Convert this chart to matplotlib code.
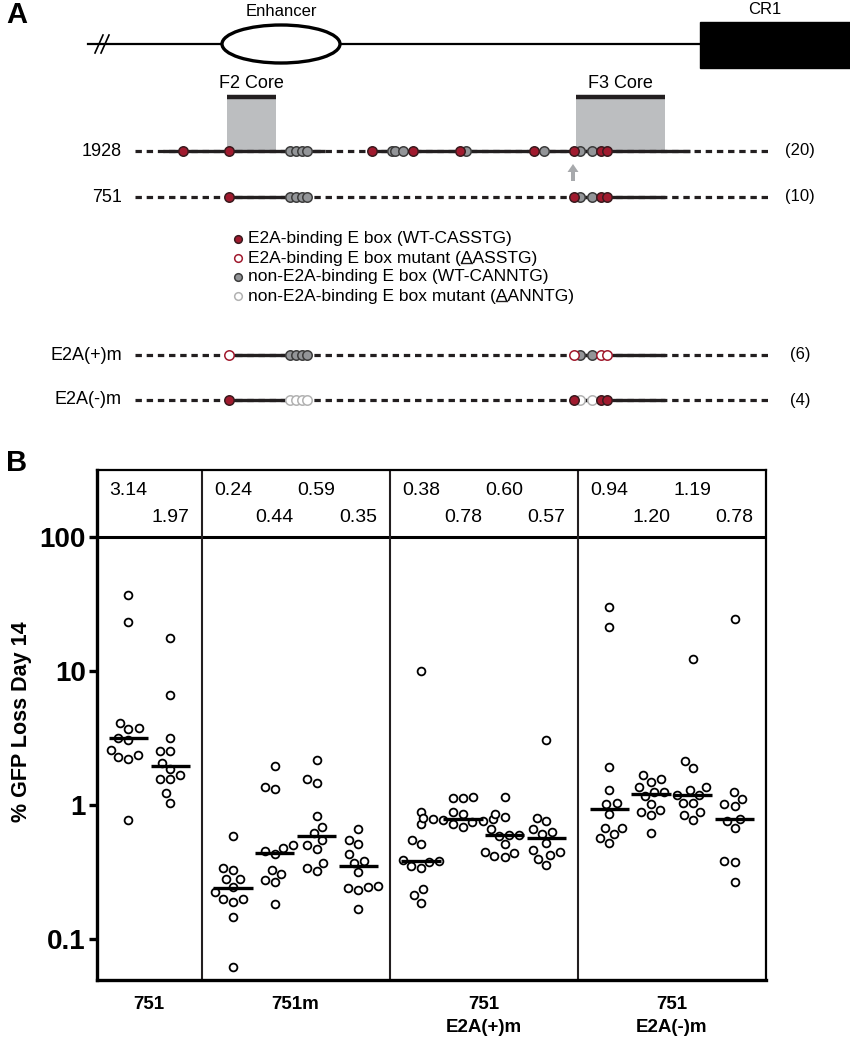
import numpy as np
import matplotlib
matplotlib.use("Agg")
import matplotlib.pyplot as plt
from matplotlib.patches import Ellipse, Rectangle, FancyArrow
from matplotlib.ticker import NullLocator, FixedLocator
from matplotlib.transforms import blended_transform_factory

plt.rcParams['font.family'] = ['Liberation Sans', 'DejaVu Sans']
NARROW = ['Liberation Sans Narrow', 'Liberation Sans', 'DejaVu Sans']

# ---------- panel A: construct map ----------
construct_names = ["1928", "751", "E2A(+)m", "E2A(-)m"]
construct_counts = ["(20)", "(10)", "(6)", "(4)"]
# E box positions along the map; E = E2A-binding, N = non-binding, lower case = mutant
ebox_pos_1928 = [183, 229, 290, 296, 302, 307, 372, 392, 395, 403, 413,
                 460, 466, 534, 544, 574, 580, 592, 601, 607]
ebox_type_1928 = ["E", "E", "N", "N", "N", "N", "E", "N", "N", "N", "E",
                  "E", "N", "E", "N", "E", "N", "N", "E", "E"]
ebox_pos_751 = [229, 290, 296, 302, 307, 574, 580, 592, 601, 607]
ebox_type_751 = ["E", "N", "N", "N", "N", "E", "N", "N", "E", "E"]
ebox_type_plus = ["e", "N", "N", "N", "N", "e", "N", "N", "e", "e"]
ebox_type_minus = ["E", "n", "n", "n", "n", "E", "n", "n", "E", "E"]
kept_1928 = [(163, 325), (368, 690)]
kept_751 = [(229, 308), (570, 665)]
map_span = (135, 768)
f2_core = (227, 276)
f3_core = (576, 665)
legend_labels = ["E2A-binding E box (WT-CASSTG)",
                 "E2A-binding E box mutant (AASSTG)",
                 "non-E2A-binding E box (WT-CANNTG)",
                 "non-E2A-binding E box mutant (AANNTG)"]
legend_types = ["E", "e", "N", "n"]

# ---------- panel B: % GFP loss day 14 ----------
group_names = ["751", "751m", "751\nE2A(+)m", "751\nE2A(-)m"]
group_ncols = [2, 4, 4, 4]
median_labels = ["3.14", "1.97", "0.24", "0.44", "0.59", "0.35",
                 "0.38", "0.78", "0.60", "0.57", "0.94", "1.20", "1.19", "0.78"]
gfp_loss = [
    [36.9, 23.2, 4.11, 3.71, 3.73, 3.05, 3.16, 2.57, 2.29, 2.19, 2.36, 0.77],
    [17.7, 6.62, 3.16, 2.52, 2.52, 2.07, 1.87, 1.57, 1.56, 1.67, 1.22, 1.04],
    [0.59, 0.327, 0.34, 0.28, 0.28, 0.246, 0.20, 0.188, 0.20, 0.223, 0.147, 0.062],
    [1.95, 1.31, 1.36, 0.50, 0.48, 0.45, 0.43, 0.325, 0.275, 0.304, 0.265, 0.182],
    [2.15, 1.47, 1.56, 0.83, 0.68, 0.615, 0.548, 0.50, 0.47, 0.369, 0.323, 0.34],
    [0.66, 0.51, 0.548, 0.433, 0.37, 0.385, 0.315, 0.25, 0.239, 0.232, 0.243, 0.168],
    [10.0, 0.89, 0.72, 0.548, 0.51, 0.39, 0.38, 0.336, 0.35, 0.377, 0.236, 0.212, 0.185],
    [1.15, 1.12, 1.13, 0.89, 0.85, 0.80, 0.78, 0.78, 0.76, 0.77, 0.74, 0.69, 0.72],
    [1.15, 0.86, 0.82, 0.665, 0.60, 0.60, 0.59, 0.51, 0.436, 0.41, 0.417, 0.444],
    [3.07, 0.80, 0.76, 0.665, 0.61, 0.625, 0.52, 0.46, 0.42, 0.446, 0.395, 0.356],
    [30.2, 21.4, 1.91, 1.29, 1.03, 1.02, 0.86, 0.67, 0.67, 0.61, 0.57, 0.52],
    [1.56, 1.49, 1.66, 1.26, 1.17, 1.24, 1.36, 1.02, 0.88, 0.84, 0.91, 0.62],
    [12.3, 2.14, 1.90, 1.29, 1.36, 1.19, 1.19, 1.03, 1.03, 0.88, 0.84, 0.77],
    [24.4, 1.24, 1.11, 1.01, 0.99, 0.78, 0.76, 0.67, 0.38, 0.374, 0.265],
]

RED = '#a01a2e'
GREY = '#939598'
DARK = '#231f20'

W, H = 850, 1050
fig = plt.figure(figsize=(W / 100, H / 100), dpi=100)
renderer = fig.canvas.get_renderer()

# ---------- panel A (pixel coordinates) ----------
HA = 460
axA = fig.add_axes([0, 1 - HA / H, 1, HA / H])
axA.set_xlim(0, W)
axA.set_ylim(HA, 0)
axA.axis('off')

fig.text(6 / W, 1 - 15 / H, "A", fontsize=21, fontweight='bold', va='center', family=NARROW)

# locus line with enhancer and CR1
axA.plot([88, 850], [44, 44], color='black', lw=1.6, zorder=1)
for dx in (0, 6):
    axA.plot([95 + dx, 103 + dx], [53, 35], color='black', lw=1.2, zorder=2)
axA.add_patch(Ellipse((281, 44), 118, 38, facecolor='white', edgecolor='black', lw=2.4, zorder=3))
axA.add_patch(Rectangle((700, 22), 150, 46, facecolor='black', edgecolor='black', zorder=3))
axA.text(281, 12, "Enhancer", ha='center', va='center', fontsize=12, family=NARROW)
axA.text(765, 10, "CR1", ha='center', va='center', fontsize=12, family=NARROW)

# core regions
for (x0, x1), name in [(f2_core, "F2 Core"), (f3_core, "F3 Core")]:
    axA.add_patch(Rectangle((x0, 97), x1 - x0, 54, facecolor='#bcbec0', edgecolor='none', zorder=0))
    axA.plot([x0, x1], [97, 97], color=DARK, lw=3.2, solid_capstyle='butt', zorder=2)
    axA.text((x0 + x1) / 2, 84, name, ha='center', va='center', fontsize=13)


def draw_box(x, y, kind, size=6.8):
    face = {'E': RED, 'e': 'white', 'N': GREY, 'n': 'white'}[kind]
    edge = {'E': '#3a1a1e', 'e': RED, 'N': '#3c3c3c', 'n': '#b2b2b2'}[kind]
    z = 6 if kind in 'Ee' else 5
    axA.plot([x], [y], 'o', ms=size, mfc=face, mec=edge, mew=1.1, zorder=z)


def draw_construct(y, name, count, kept, pos, types):
    axA.plot(list(map_span), [y, y], color=DARK, lw=2.3, ls=(0, (2.0, 1.5)), zorder=1)
    for x0, x1 in kept:
        axA.plot([x0, x1], [y, y], color=DARK, lw=2.4, solid_capstyle='butt', zorder=2)
    for x, t in zip(pos, types):
        draw_box(x, y, t)
    axA.text(122, y, name, ha='right', va='center', fontsize=13)
    axA.text(800, y, count, ha='center', va='center', fontsize=12)


row_y = [151, 197, 355, 400]
draw_construct(row_y[0], construct_names[0], construct_counts[0], kept_1928, ebox_pos_1928, ebox_type_1928)
draw_construct(row_y[1], construct_names[1], construct_counts[1], kept_751, ebox_pos_751, ebox_type_751)
draw_construct(row_y[2], construct_names[2], construct_counts[2], kept_751, ebox_pos_751, ebox_type_plus)
draw_construct(row_y[3], construct_names[3], construct_counts[3], kept_751, ebox_pos_751, ebox_type_minus)

axA.add_patch(FancyArrow(573, 181, 0, -17, width=4, head_width=11, head_length=8,
                         length_includes_head=True, color='#a7a9ac', lw=0, zorder=3))

# legend
leg_y = [239, 258, 277, 296]
LEG_FS = 12.5
for y, lab, t in zip(leg_y, legend_labels, legend_types):
    draw_box(238, y, t, size=5.5)
    axA.text(248, y, lab, ha='left', va='center', fontsize=LEG_FS)
    if "mutant" in lab:
        # underline the first letter inside the brackets
        prefix = lab[:lab.index("(") + 1]
        t1 = axA.text(248, y, prefix, ha='left', va='center', fontsize=LEG_FS, alpha=0)
        t2 = axA.text(248, y, prefix + "A", ha='left', va='center', fontsize=LEG_FS, alpha=0)
        b1 = t1.get_window_extent(renderer)
        b2 = t2.get_window_extent(renderer)
        inv = axA.transData.inverted()
        (ux0, uy), (ux1, _) = inv.transform([(b1.x1, b1.y0 + 3), (b2.x1, b1.y0 + 3)])
        axA.plot([ux0 + 0.5, ux1 - 0.5], [uy, uy], color=DARK, lw=1.0)
        t1.remove()
        t2.remove()

# ---------- panel B ----------
fig.text(6 / W, 1 - 463 / H, "B", fontsize=21, fontweight='bold', va='center', family=NARROW)

ax = fig.add_axes([97 / W, 1 - 980 / H, (766 - 97) / W, 510 / H])
ax.set_yscale('log')
ax.set_ylim(0.0494, 316)
ax.set_xlim(0, 16)

col_x = []
group_centers = []
group_edges = []
left = 0.0
for n in group_ncols:
    col_x += [left + 0.75 + k for k in range(n)]
    group_centers.append(left + (n + 0.5) / 2)
    left += n + 0.5
    group_edges.append(left)


def swarm(ys_px, d):
    order = np.argsort(ys_px)
    placed = []
    xs = np.zeros(len(ys_px))
    for i in order:
        y = ys_px[i]
        near = [(px, py) for px, py in placed if abs(py - y) < d]
        cands = [0.0]
        for px, py in near:
            dx = np.sqrt(d * d - (py - y) ** 2)
            cands += [px - dx, px + dx]
        cands.sort(key=lambda c: (abs(c), c))
        for c in cands:
            if all((c - px) ** 2 + (y - py) ** 2 >= d * d - 1e-6 for px, py in near):
                xs[i] = c
                break
        placed.append((xs[i], y))
    return xs


inv = ax.transData.inverted()
for cx, vals, lab in zip(col_x, gfp_loss, median_labels):
    vals = np.array(vals)
    disp = ax.transData.transform(np.column_stack([np.full(len(vals), cx), vals]))
    offs = swarm(disp[:, 1], 10.3)
    xs = inv.transform(np.column_stack([disp[:, 0] + offs, disp[:, 1]]))[:, 0]
    ax.plot(xs, vals, 'o', ms=5.6, mfc='white', mec='black', mew=1.3, zorder=3, clip_on=False)
    ax.plot([cx - 0.47, cx + 0.47], [float(lab)] * 2, color='black', lw=2.4,
            solid_capstyle='butt', zorder=4)

# table of medians above 100
trans = blended_transform_factory(ax.transData, ax.transAxes)
for i, (cx, lab) in enumerate(zip(col_x, median_labels)):
    ax.text(cx, 0.959 if i % 2 == 0 else 0.906, lab, transform=trans,
            ha='center', va='center', fontsize=14)

ax.axhline(100, color='black', lw=2.2, zorder=2)
for e in group_edges[:-1]:
    ax.axvline(e, color=DARK, lw=1.5, zorder=2)

for s in ['left', 'bottom']:
    ax.spines[s].set_linewidth(2.4)
for s in ['top', 'right']:
    ax.spines[s].set_linewidth(1.6)

ax.yaxis.set_major_locator(FixedLocator([0.1, 1, 10, 100]))
ax.yaxis.set_minor_locator(NullLocator())
ax.set_yticklabels(["0.1", "1", "10", "100"], fontsize=20, fontweight='bold')
ax.tick_params(axis='y', length=6, width=2.4, pad=2)
ax.set_xticks([])

for gx, name in zip(group_centers, group_names):
    ax.text(gx, -0.032, name, transform=trans, ha='center', va='top',
            fontsize=13.5, fontweight='bold', linespacing=1.45, family=NARROW)

fig.text(22 / W, 1 - 722 / H, "% GFP Loss Day 14", rotation=90, ha='center', va='center',
         fontsize=15.5, fontweight='bold')

fig.savefig("out.png", dpi=100)
